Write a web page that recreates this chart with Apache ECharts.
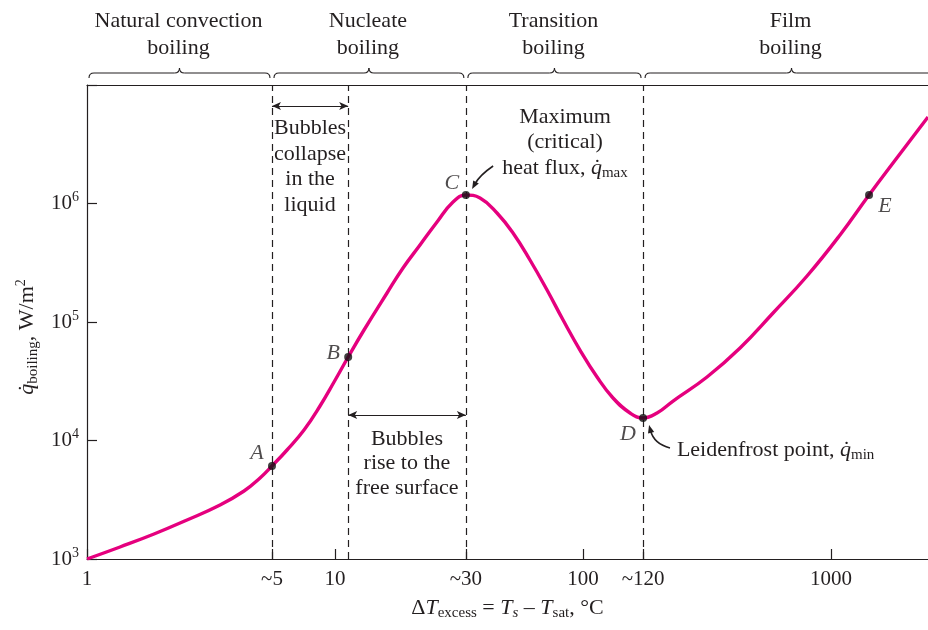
<!DOCTYPE html>
<html>
<head>
<meta charset="utf-8">
<script src="https://cdn.jsdelivr.net/npm/echarts@6/dist/echarts.min.js"></script>
<style>
html,body{margin:0;padding:0;background:#fff;}
#c{width:928px;height:630px;}
</style>
</head>
<body>
<div id="c"></div>
<script>
// ---- data (schematic boiling curve) ----
const deltaT   = [1, 1.359, 1.863, 2.531, 3.439, 4.297, 4.985, 5.57, 6.405, 7.499, 8.70, 9.91, 11.3, 13.09, 16.21, 18.80, 22.01, 25.78, 29.91, 33.7, 38.43, 45.0, 52.2, 61.1, 71.6, 83.1, 97.2, 113.9, 132.1, 154.7, 174.6, 198.8, 230.7, 316.2, 429.7, 583.7, 800.2, 1087, 1423, 1778, 2460];
const heatFlux = [1000, 1263, 1625, 2134, 2856, 3748, 4826, 6094, 8315, 12265, 19550, 31160, 50660, 85600, 175700, 285600, 446400, 698200, 1030000, 1180000, 1113000, 831000, 563700, 333600, 186200, 103900, 58000, 34340, 22840, 17070, 15490, 17070, 21540, 34340, 60330, 119100, 244400, 542300, 1180000, 2197000, 5370000];
const pointNames = ['A', 'B', 'C', 'D', 'E'];
const pointT     = [5.57, 11.3, 33.7, 174.6, 1423];
const pointQ     = [6094, 50660, 1180000, 15490, 1180000];
const regimeNames  = ['Natural convection\nboiling', 'Nucleate\nboiling', 'Transition\nboiling', 'Film\nboiling'];
const regimeBounds = [1, 5.57, 33.7, 174.6, 2460];
const dividerT     = [5.57, 11.3, 33.7, 174.6];
const xTickValues  = [1, 5.57, 10, 33.7, 100, 174.6, 1000];
const xTickLabels  = ['1', '~5', '10', '~30', '100', '~120', '1000'];

// ---- styling ----
const SERIF = '"Liberation Serif", "DejaVu Serif", serif';
const INK = '#231f20';
const CURVE = '#E5007E';
const labelOffsets = { A: [-15, -13], B: [-15, -4], C: [-14, -12], D: [-15, 16], E: [16, 11] };

// annotation anchors (data space)
const annot = {
  collapseArrowQ: 6.65e6,
  riseArrowQ: 16400,
  collapseText: [7.93, 2.05e6],
  riseText: [19.5, 6400],
  maxText: [84.6, 3.27e6],
  leidText: [239, 8320],
  cArrow: [[43.4, 2.073e6], [38.4, 1.74e6], [35.7, 1.326e6]],
  dArrow: [[224.2, 8646], [193.4, 9343], [184.6, 13510]]
};

const richCommon = {
  i:   { fontFamily: SERIF, fontStyle: 'italic', fontSize: 22, color: INK, lineHeight: 26 },
  sub: { fontFamily: SERIF, fontSize: 15, color: INK, verticalAlign: 'bottom', lineHeight: 26 },
  isub:{ fontFamily: SERIF, fontStyle: 'italic', fontSize: 15, color: INK, verticalAlign: 'bottom', lineHeight: 26 },
  sup: { fontFamily: SERIF, fontSize: 14, color: INK, verticalAlign: 'top', lineHeight: 26 }
};

const option = {
  animation: false,
  backgroundColor: '#fff',
  grid: { left: 87, right: 0, top: 85, bottom: 71, show: false, outerBoundsMode: 'none', containLabel: false },
  xAxis: [{
    type: 'log', logBase: 10, min: 1, max: 2460,
    axisLine: { show: true, lineStyle: { color: INK, width: 1.2 } },
    axisTick: { show: true, inside: true, length: 10, customValues: xTickValues, lineStyle: { color: INK, width: 1.2 } },
    axisLabel: {
      customValues: xTickValues,
      margin: 10,
      fontFamily: SERIF, fontSize: 21, color: INK,
      formatter: function (v) {
        let best = 0, bd = Infinity;
        xTickValues.forEach((t, i) => { const d = Math.abs(Math.log(t) - Math.log(v)); if (d < bd) { bd = d; best = i; } });
        return xTickLabels[best];
      }
    },
    splitLine: { show: false },
    name: 'Δ{i|T}{sub|excess} = {i|T}{isub|s} – {i|T}{sub|sat}, °C',
    nameLocation: 'middle', nameGap: 33,
    nameTextStyle: { fontFamily: SERIF, fontSize: 22, color: INK, lineHeight: 26, rich: richCommon }
  }, {
    type: 'log', logBase: 10, min: 1, max: 2460, position: 'top',
    axisLine: { show: true, onZero: false, lineStyle: { color: INK, width: 1.2 } },
    axisTick: { show: false }, axisLabel: { show: false }, splitLine: { show: false }
  }],
  yAxis: {
    type: 'log', logBase: 10, min: 1e3, max: 1e7,
    axisLine: { show: true, lineStyle: { color: INK, width: 1.2 } },
    axisTick: { show: true, inside: true, length: 10, lineStyle: { color: INK, width: 1.2 } },
    axisLabel: {
      margin: 8,
      fontFamily: SERIF, fontSize: 21, color: INK,
      formatter: function (v) {
        const e = Math.round(Math.log10(v));
        if (e >= 7) return '';
        return '{b|10}{s|' + e + '}';
      },
      rich: {
        b: { fontFamily: SERIF, fontSize: 21, color: INK, lineHeight: 26 },
        s: { fontFamily: SERIF, fontSize: 14, color: INK, verticalAlign: 'top', lineHeight: 26 }
      }
    },
    splitLine: { show: false },
    name: '{i|q̇}{sub|boiling}, W/m{sup|2}',
    nameLocation: 'middle', nameGap: 42,
    nameTextStyle: { fontFamily: SERIF, fontSize: 22, color: INK, lineHeight: 26, padding: [0, 30, 0, 0], rich: richCommon }
  },
  series: [
    {
      type: 'line',
      data: deltaT.map((t, i) => [t, heatFlux[i]]),
      smooth: 0.45,
      symbol: 'none',
      lineStyle: { color: CURVE, width: 3.4 },
      z: 3,
      markLine: {
        silent: true, symbol: ['none', 'none'], label: { show: false },
        lineStyle: { color: INK, type: [7, 5], width: 1.2 },
        data: dividerT.map(t => ({ xAxis: t })),
        z: 2
      }
    },
    {
      type: 'scatter',
      data: pointNames.map((n, i) => ({
        name: n, value: [pointT[i], pointQ[i]],
        label: { offset: labelOffsets[n] }
      })),
      symbol: 'circle', symbolSize: 8,
      itemStyle: { color: '#111' },
      z: 5,
      label: {
        show: true, position: 'inside', formatter: '{b}',
        fontFamily: SERIF, fontStyle: 'italic', fontSize: 22, color: INK
      },
      markLine: {
        silent: true, label: { show: false },
        symbol: ['arrow', 'arrow'], symbolSize: [6, 9],
        lineStyle: { color: INK, type: 'solid', width: 1.2 },
        data: [
          [{ coord: [dividerT[0], annot.collapseArrowQ] }, { coord: [dividerT[1], annot.collapseArrowQ] }],
          [{ coord: [dividerT[1], annot.riseArrowQ] }, { coord: [dividerT[2], annot.riseArrowQ] }]
        ]
      }
    }
  ]
};

const chart = echarts.init(document.getElementById('c'), null, { renderer: 'canvas' });
chart.setOption(option);

function px(t, q) { return chart.convertToPixel({ gridIndex: 0 }, [t, q]); }

const graphics = [];
const braceStyle = { stroke: INK, lineWidth: 1.1, fill: null };
// regime braces and titles
for (let i = 0; i < regimeNames.length; i++) {
  const x1 = px(regimeBounds[i], 1e3)[0] + 2;
  let x2 = px(regimeBounds[i + 1], 1e3)[0] - 2;
  if (i === regimeNames.length - 1) x2 = x2 + 12;
  const cx = (x1 + x2) / 2;
  const yb = 73;
  graphics.push({ type: 'bezierCurve', shape: { x1: x1, y1: yb + 5, cpx1: x1, cpy1: yb, x2: x1 + 5, y2: yb }, style: braceStyle });
  graphics.push({ type: 'line', shape: { x1: x1 + 5, y1: yb, x2: cx - 5, y2: yb }, style: braceStyle });
  graphics.push({ type: 'bezierCurve', shape: { x1: cx - 5, y1: yb, cpx1: cx, cpy1: yb, x2: cx, y2: yb - 5 }, style: braceStyle });
  graphics.push({ type: 'bezierCurve', shape: { x1: cx, y1: yb - 5, cpx1: cx, cpy1: yb, x2: cx + 5, y2: yb }, style: braceStyle });
  graphics.push({ type: 'line', shape: { x1: cx + 5, y1: yb, x2: x2 - 5, y2: yb }, style: braceStyle });
  graphics.push({ type: 'bezierCurve', shape: { x1: x2 - 5, y1: yb, cpx1: x2, cpy1: yb, x2: x2, y2: yb + 5 }, style: braceStyle });
  graphics.push({
    type: 'text', x: cx - 1, y: 8,
    style: { text: regimeNames[i], font: '22px ' + SERIF, fill: INK, align: 'center', verticalAlign: 'top', lineHeight: 27 }
  });
}
function addText(anchor, text, align, lh) {
  const p = px(anchor[0], anchor[1]);
  graphics.push({
    type: 'text', x: p[0], y: p[1], z: 10,
    style: { text: text, font: '22px ' + SERIF, fill: INK, align: align, verticalAlign: 'middle', lineHeight: lh, rich: richCommon }
  });
}
function addCurvedArrow(pts) {
  const s = px(pts[0][0], pts[0][1]);
  const c = px(pts[1][0], pts[1][1]);
  const e = px(pts[2][0], pts[2][1]);
  const dx = e[0] - c[0], dy = e[1] - c[1];
  const len = Math.sqrt(dx * dx + dy * dy) || 1;
  const ux = dx / len, uy = dy / len;
  const L = 8, W = 3.2;
  const bx = e[0] - ux * L, by = e[1] - uy * L;
  graphics.push({ type: 'bezierCurve', z: 10, shape: { x1: s[0], y1: s[1], cpx1: c[0], cpy1: c[1], x2: bx + ux * 2, y2: by + uy * 2 }, style: { stroke: INK, lineWidth: 1.6, fill: null } });
  graphics.push({ type: 'polygon', z: 10, shape: { points: [[e[0], e[1]], [bx - uy * W, by + ux * W], [bx + uy * W, by - ux * W]] }, style: { fill: INK } });
}
addText(annot.collapseText, 'Bubbles\ncollapse\nin the\nliquid', 'center', 25.5);
addText(annot.riseText, 'Bubbles\nrise to the\nfree surface', 'center', 24.5);
addText(annot.maxText, 'Maximum\n(critical)\nheat flux, {i|q̇}{sub|max}', 'center', 25.5);
addText(annot.leidText, 'Leidenfrost point, {i|q̇}{sub|min}', 'left', 26);
addCurvedArrow(annot.cArrow);
addCurvedArrow(annot.dArrow);

chart.setOption({ graphic: graphics });
</script>
</body>
</html>
